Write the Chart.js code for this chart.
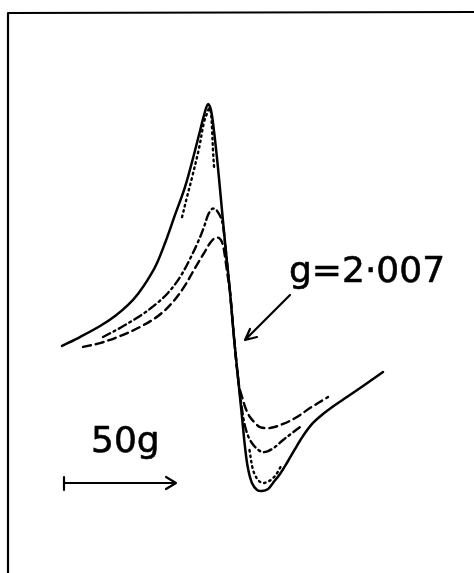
<!DOCTYPE html>
<html>
<head>
<meta charset="utf-8">
<script src="https://cdn.jsdelivr.net/npm/chart.js@4.4.1/dist/chart.umd.min.js"></script>
<style>
  html, body { margin: 0; padding: 0; background: #fff; }
  #wrap { width: 474px; height: 573px; }
</style>
</head>
<body>
<div id="wrap"><canvas id="c" width="474" height="573"></canvas></div>
<script>
// Field offset from resonance centre (gauss) and derivative intensity (arb. units)
const solidField = [-75.0,-67.0,-58.0,-51.3,-45.5,-41.1,-37.05,-33.0,-29.0,-24.55,-20.1,-16.5,-13.4,-11.2,-9.8,-8.5,-7.1,-5.4,-3.6,-1.8,0,1.8,3.6,5.4,6.7,8.0,9.8,12.1,14.3,17.0,19.2,22.3,25.4,29.0,32.6,37.05,41.5,46.9,52.2,59.4,68.3];
const solidInt   = [-25.3,-20.7,-15.0,-9.8,-4.1,1.6,8.3,16.5,27.9,42.4,56.8,71.8,85.8,95.6,99.7,96.6,85.3,67.2,45.0,23.3,2.6,-21.2,-41.9,-62.5,-77.5,-88.4,-96.1,-99.7,-100.3,-99.2,-96.1,-91.5,-85.8,-78.6,-71.8,-65.1,-60.5,-55.8,-51.7,-46.0,-38.8];

// dotted trace: two visible parts (peak and trough), null = gap
const dottedField = [-21.4,-19.2,-17.0,-13.8,-11.6,-10.0,-9.2,-8.5,-8.0,-7.6,-7.1,0,8.7,10.3,12.5,14.7,16.5,18.75,21.0,22.8];
const dottedInt   = [41.3,51.7,61.5,77.0,90.4,95.6,97.7,95.1,86.3,76.0,66.7,null,-79.1,-89.4,-94.6,-96.1,-95.6,-94.1,-91.0,-87.3];

const dashDotField = [-56.7,-49.1,-40.2,-33.5,-27.7,-22.3,-17.9,-14.3,-11.6,-9.8,-8.0,-6.7,-5.4,-4.0,-3.1,-1.8,0,1.8,3.6,5.4,6.7,8.5,11.2,14.3,17.0,20.1,23.7,27.7,31.25];
const dashDotInt   = [-20.7,-16.0,-9.8,-4.1,2.1,10.3,19.6,28.4,36.2,42.4,45.5,45.5,43.9,40.8,36.7,23.3,2.6,-21.2,-41.9,-58.4,-66.7,-72.9,-77.5,-80.1,-79.6,-77.5,-73.9,-70.3,-67.2];

const dashedField = [-65.6,-58.0,-49.1,-40.2,-32.1,-25.9,-20.5,-15.6,-11.6,-8.9,-6.7,-4.9,-3.6,-2.7,-1.3,0,1.8,4.0,5.4,7.1,8.9,11.2,13.4,17.9,23.7,29.9,35.7,43.75];
const dashedInt   = [-25.8,-23.8,-20.2,-15.5,-9.8,-3.1,5.2,15.0,22.7,27.9,30.5,30.5,28.4,24.3,12.9,2.6,-21.2,-45.5,-51.7,-57.9,-62.0,-65.1,-67.2,-67.7,-65.6,-62.0,-57.4,-51.7];

const gLabel = 'g=2·007';
const scaleLabel = '50g';
const scaleBarGauss = 50;

function pts(xs, ys) { return xs.map((x, i) => ({ x: x, y: ys[i] })); }

const annot = {
  id: 'annot',
  afterDraw(chart) {
    const ctx = chart.ctx;
    const xs = chart.scales.x;
    ctx.save();
    ctx.strokeStyle = '#000';
    ctx.fillStyle = '#000';
    ctx.lineCap = 'round';
    ctx.lineJoin = 'round';
    // frame (top & left edges)
    ctx.lineWidth = 2.2;
    ctx.beginPath();
    ctx.moveTo(8, 573);
    ctx.lineTo(8, 13);
    ctx.lineTo(474, 12);
    ctx.stroke();
    // text
    ctx.font = '36px "DejaVu Sans"';
    ctx.textBaseline = 'alphabetic';
    ctx.textAlign = 'left';
    ctx.lineWidth = 0.6;
    ctx.fillText(gLabel, 289, 282);
    ctx.strokeText(gLabel, 289, 282);
    ctx.fillText(scaleLabel, 91, 452);
    ctx.strokeText(scaleLabel, 91, 452);
    // g arrow
    ctx.lineWidth = 2.2;
    ctx.beginPath();
    ctx.moveTo(290, 295);
    ctx.lineTo(245, 340);
    ctx.moveTo(250, 329);
    ctx.lineTo(245, 340);
    ctx.lineTo(257, 337);
    ctx.stroke();
    // scale bar (50 gauss through the x scale)
    const x0 = 64;
    const f0 = xs.getValueForPixel(x0);
    const x1 = xs.getPixelForValue(f0 + scaleBarGauss);
    const yb = 483;
    ctx.beginPath();
    ctx.moveTo(x0, yb - 6);
    ctx.lineTo(x0, yb + 7);
    ctx.moveTo(x0, yb);
    ctx.lineTo(x1, yb);
    ctx.moveTo(x1 - 10, yb - 6);
    ctx.lineTo(x1, yb);
    ctx.lineTo(x1 - 10, yb + 6);
    ctx.stroke();
    ctx.restore();
  }
};

const common = { pointRadius: 0, borderColor: '#000', fill: false, tension: 0.35, spanGaps: false, borderCapStyle: 'round' };

new Chart(document.getElementById('c'), {
  type: 'line',
  data: {
    datasets: [
      Object.assign({ label: 'solid', data: pts(solidField, solidInt), borderWidth: 2.5 }, common),
      Object.assign({ label: 'dotted', data: pts(dottedField, dottedInt), borderWidth: 2.4, borderDash: [1.5, 4] }, common),
      Object.assign({ label: 'dash-dot', data: pts(dashDotField, dashDotInt), borderWidth: 2.4, borderDash: [8, 4, 2, 4] }, common),
      Object.assign({ label: 'dashed', data: pts(dashedField, dashedInt), borderWidth: 2.4, borderDash: [8, 5] }, common)
    ]
  },
  options: {
    responsive: false,
    animation: false,
    layout: { padding: 0 },
    plugins: { legend: { display: false }, tooltip: { enabled: false } },
    scales: {
      x: { type: 'linear', display: false, min: -102.68, max: 108.93 },
      y: { type: 'linear', display: false, min: -142.64, max: 153.49 }
    }
  },
  plugins: [annot]
});
</script>
</body>
</html>
